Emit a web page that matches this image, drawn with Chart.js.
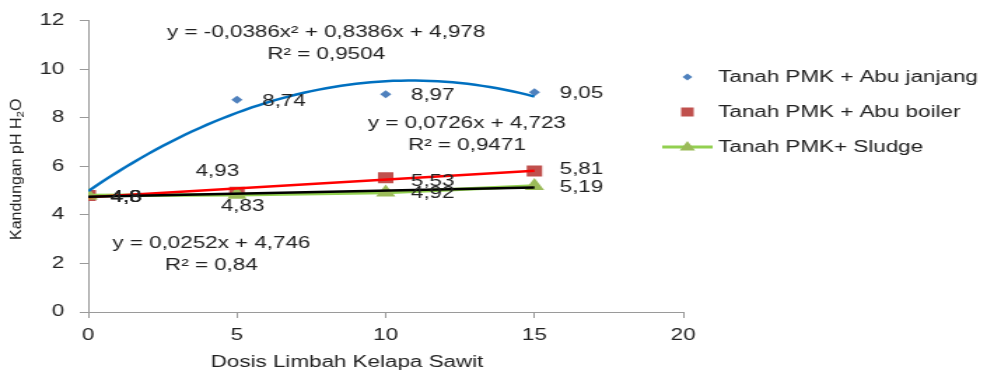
<!DOCTYPE html>
<html>
<head>
<meta charset="utf-8">
<script src="https://cdn.jsdelivr.net/npm/chart.js@4/dist/chart.umd.min.js"></script>
<style>
  html, body { margin: 0; padding: 0; background: #fff; }
  #phChart { display: block; width: 987px; height: 376px; }
</style>
</head>
<body>
<canvas id="phChart" width="705" height="376" style="width:987px;height:376px"></canvas>
<script>
// dosis limbah (x) dan pH H2O tiap perlakuan
const doses = [0, 5, 10, 15];
const abuJanjang = [4.8, 8.74, 8.97, 9.05];
const abuBoiler = [4.8, 4.93, 5.53, 5.81];
const sludge = [4.8, 4.83, 4.92, 5.19];
const seriesNames = ['Tanah PMK + Abu janjang', 'Tanah PMK + Abu boiler', 'Tanah PMK+ Sludge'];

// koefisien garis tren (c0, c1, c2) dan R²
const trendJanjang = [4.978, 0.8386, -0.0386];
const trendBoiler = [4.723, 0.0726];
const trendSludge = [4.746, 0.0252];
const rSquared = [0.9504, 0.9471, 0.84];

const xTicks = [0, 5, 10, 15, 20];
const yTicks = [0, 2, 4, 6, 8, 10, 12];

const FONT = '"Liberation Sans", Arial, sans-serif';
const TEXT = '#222222';
const AXIS = '#9a9a9a';

const fmt = v => String(v).replace('.', ',');
const pts = ys => doses.map((x, i) => ({x: x, y: ys[i]}));
const poly = (c, x) => c.reduce((s, k, i) => s + k * Math.pow(x, i), 0);

function trendPoints(c, step) {
  const out = [];
  for (let x = doses[0]; x <= doses[doses.length - 1] + 1e-9; x += step) {
    out.push({x: x, y: poly(c, x)});
  }
  return out;
}

function eqText(c) {
  let s = 'y = ';
  if (c.length === 3) s += fmt(c[2]) + 'x² + ';
  return s + fmt(c[1]) + 'x + ' + fmt(c[0]);
}

// letak label nilai relatif terhadap titik: [dx, dy, align]
const labelOffsets = [
  [[16, 2, 'left'], [18, 2, 'left'], [18, 1, 'left'], [18, 1, 'left']],
  [[16, 2, 'left'], [-14, -21, 'center'], [18, 4, 'left'], [18, -1, 'left']],
  [[16, 2, 'left'], [4, 12, 'center'], [18, 1, 'left'], [18, 2, 'left']]
];

// letak persamaan tren (pusat teks, satuan data)
const eqPlaces = [
  {x: 8.0, y: 11.5},
  {x: 12.73, y: 7.74},
  {x: 4.14, y: 2.8}
];

const valueLabels = {
  id: 'valueLabels',
  afterDatasetsDraw(chart) {
    const {ctx} = chart;
    const xs = chart.scales.x, ys = chart.scales.y;
    ctx.save();
    ctx.font = '16px ' + FONT;
    ctx.fillStyle = TEXT;
    ctx.textBaseline = 'middle';
    [abuJanjang, abuBoiler, sludge].forEach((vals, s) => {
      vals.forEach((v, i) => {
        const o = labelOffsets[s][i];
        ctx.textAlign = o[2];
        ctx.fillText(fmt(v), xs.getPixelForValue(doses[i]) + o[0], ys.getPixelForValue(v) + o[1]);
      });
    });
    // persamaan dan R²
    ctx.textAlign = 'center';
    [trendJanjang, trendBoiler, trendSludge].forEach((c, k) => {
      const px = xs.getPixelForValue(eqPlaces[k].x);
      const py = ys.getPixelForValue(eqPlaces[k].y);
      ctx.fillText(eqText(c), px, py);
      ctx.fillText('R² = ' + fmt(rSquared[k]), px, py + 22);
    });
    ctx.restore();
  }
};

const axisTitles = {
  id: 'axisTitles',
  afterDraw(chart) {
    const {ctx, chartArea} = chart;
    const xs = chart.scales.x;
    ctx.save();
    ctx.fillStyle = TEXT;
    ctx.font = '16px ' + FONT;
    ctx.textAlign = 'center';
    ctx.textBaseline = 'middle';
    ctx.fillText('Dosis Limbah Kelapa Sawit', xs.getPixelForValue(8.7), 363);

    // judul sumbu y tegak dengan subskrip
    const parts = [['Kandungan pH H', 11, 0], ['2', 8, 3], ['O', 11, 0]];
    ctx.translate(12, (chartArea.top + chartArea.bottom) / 2 + 3);
    ctx.rotate(-Math.PI / 2);
    ctx.scale(1.45, 1);
    let total = 0;
    parts.forEach(p => { ctx.font = p[1] + 'px ' + FONT; total += ctx.measureText(p[0]).width; });
    let x = -total / 2;
    ctx.textAlign = 'left';
    parts.forEach(p => {
      ctx.font = p[1] + 'px ' + FONT;
      ctx.fillText(p[0], x, p[2]);
      x += ctx.measureText(p[0]).width;
    });
    ctx.restore();
  }
};

const sideLegend = {
  id: 'sideLegend',
  afterDraw(chart) {
    const {ctx} = chart;
    const mx = 491, tx = 513, rows = [77, 112, 147];
    ctx.save();
    // belah ketupat
    ctx.fillStyle = '#4F81BD';
    ctx.beginPath();
    ctx.moveTo(mx, rows[0] - 3.5); ctx.lineTo(mx + 3.5, rows[0]);
    ctx.lineTo(mx, rows[0] + 3.5); ctx.lineTo(mx - 3.5, rows[0]);
    ctx.closePath(); ctx.fill();
    // kotak
    ctx.fillStyle = '#C0504D';
    ctx.fillRect(mx - 4.5, rows[1] - 4.5, 9, 9);
    // garis + segitiga
    ctx.strokeStyle = '#92D050';
    ctx.lineWidth = 3;
    ctx.beginPath(); ctx.moveTo(473, rows[2]); ctx.lineTo(509, rows[2]); ctx.stroke();
    ctx.fillStyle = '#9BBB59';
    ctx.beginPath();
    ctx.moveTo(mx, rows[2] - 6); ctx.lineTo(mx + 5.5, rows[2] + 3.5); ctx.lineTo(mx - 5.5, rows[2] + 3.5);
    ctx.closePath(); ctx.fill();

    ctx.fillStyle = TEXT;
    ctx.font = '16px ' + FONT;
    ctx.textAlign = 'left';
    ctx.textBaseline = 'middle';
    seriesNames.forEach((n, i) => ctx.fillText(n, tx, rows[i] + 1));
    ctx.restore();
  }
};

const whiteBg = {
  id: 'whiteBg',
  beforeDraw(chart) {
    const {ctx, width, height} = chart;
    ctx.save();
    ctx.fillStyle = '#fff';
    ctx.fillRect(0, 0, width, height);
    ctx.restore();
  }
};

const ctx = document.getElementById('phChart').getContext('2d');
const myChart = new Chart(ctx, {
  type: 'scatter',
  data: {
    datasets: [
      {
        label: 'tren sludge',
        data: trendPoints(trendSludge, 15),
        showLine: true, borderColor: '#000000', borderWidth: 2.5,
        pointRadius: 0, order: 0
      },
      {
        label: 'tren abu boiler',
        data: trendPoints(trendBoiler, 15),
        showLine: true, borderColor: '#FF0000', borderWidth: 2.5,
        pointRadius: 0, order: 1
      },
      {
        label: 'tren abu janjang',
        data: trendPoints(trendJanjang, 0.25),
        showLine: true, borderColor: '#0070C0', borderWidth: 2.5,
        pointRadius: 0, order: 2
      },
      {
        label: seriesNames[2],
        data: pts(sludge),
        showLine: true, borderColor: '#92D050', borderWidth: 3.5,
        pointStyle: 'triangle', pointRadius: 8,
        backgroundColor: '#9BBB59', pointBorderWidth: 0, order: 3
      },
      {
        label: seriesNames[1],
        data: pts(abuBoiler),
        pointStyle: 'rect', pointRadius: 7.8,
        backgroundColor: '#C0504D', borderWidth: 0, order: 4
      },
      {
        label: seriesNames[0],
        data: pts(abuJanjang),
        pointStyle: 'rectRot', pointRadius: 4,
        backgroundColor: '#4F81BD', borderWidth: 0, order: 5
      }
    ]
  },
  options: {
    responsive: false,
    animation: false,
    devicePixelRatio: 1,
    layout: {padding: {top: 16, right: 217, left: 0, bottom: 0}},
    plugins: {legend: {display: false}, tooltip: {enabled: false}},
    scales: {
      x: {
        type: 'linear', min: 0, max: 20,
        afterBuildTicks: s => { s.ticks = xTicks.map(v => ({value: v})); },
        afterFit: s => { s.height = 64; },
        grid: {drawOnChartArea: false, tickLength: 6, color: AXIS},
        border: {color: AXIS},
        ticks: {color: TEXT, padding: 8, font: {family: FONT, size: 16}}
      },
      y: {
        type: 'linear', min: 0, max: 12,
        afterBuildTicks: s => { s.ticks = yTicks.map(v => ({value: v})); },
        afterFit: s => { s.width = 63; },
        grid: {drawOnChartArea: false, tickLength: 6, color: AXIS},
        border: {color: AXIS},
        ticks: {color: TEXT, padding: 11, font: {family: FONT, size: 16}}
      }
    }
  },
  plugins: [whiteBg, valueLabels, axisTitles, sideLegend]
});
</script>
</body>
</html>
